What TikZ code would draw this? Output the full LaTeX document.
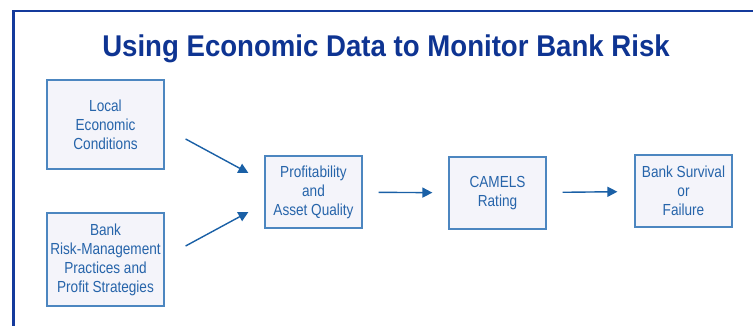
\documentclass[tikz,border=0pt]{standalone}
\usepackage{fontspec}
\setmainfont[FakeStretch=0.85]{Liberation Sans}
\newfontfamily\titlefont[FakeStretch=0.92]{Liberation Sans}
\usepackage{tikz}
\usetikzlibrary{arrows.meta}

\definecolor{frameblue}{RGB}{20,58,156}
\definecolor{titleblue}{RGB}{14,52,146}
\definecolor{boxline}{RGB}{76,134,192}
\definecolor{boxfill}{RGB}{244,244,250}
\definecolor{textblue}{RGB}{38,100,170}
\definecolor{arrowblue}{RGB}{26,96,166}

\begin{document}
\begin{tikzpicture} [x=1pt, y=1pt, align=center, inner sep=0pt]

            \tikzstyle{box} = [rectangle, draw=boxline, fill=boxfill, line width=1.2pt,
                text=textblue, font=\fontsize{16}{19}\selectfont]
            \tikzstyle{link} = [-{Triangle[length=10pt,width=10pt]}, draw=arrowblue, fill=arrowblue, line width=1.4pt]
            \tikzstyle{heading} = [anchor=base, text=titleblue,
                font=\titlefont\bfseries\fontsize{30}{36}\selectfont]

            \clip (0,0) rectangle (753,326);
            \draw[frameblue, line width=2.2pt] (13.5,315) rectangle (780,-30);

            \node[heading](title) at(386, 269) {Using Economic Data to Monitor Bank Risk};

            \node[box, minimum width=117pt, minimum height=89pt](local) at(105.5, 201.5) {Local\\Economic\\Conditions};
            \node[box, minimum width=117pt, minimum height=93pt](practices) at(105.5, 66.5) {Bank\\Risk-Management\\Practices and\\Profit Strategies};
            \node[box, minimum width=97pt, minimum height=72pt](profit) at(313.5, 134) {Profitability\\and\\Asset Quality};
            \node[box, minimum width=97pt, minimum height=72pt](camels) at(497.5, 133) {CAMELS\\Rating};
            \node[box, minimum width=97pt, minimum height=72pt](outcome) at(683.5, 135) {Bank Survival\\or\\Failure};

            \coordinate (from_local) at ([xshift=21pt, yshift=-14.5pt]local.east);
            \coordinate (to_profit_top) at ([xshift=-16pt, yshift=19pt]profit.west);
            \coordinate (from_practices) at ([xshift=21pt, yshift=13.5pt]practices.east);
            \coordinate (to_profit_low) at ([xshift=-16pt, yshift=-20pt]profit.west);

            \draw[link] (from_local) -- (to_profit_top);
            \draw[link] (from_practices) -- (to_profit_low);
            \draw[link, shorten <=16pt, shorten >=16pt] (profit) -- (camels);
            \draw[link, shorten <=16pt, shorten >=17pt] (camels) -- (outcome);
       \end{tikzpicture}
\end{document}
